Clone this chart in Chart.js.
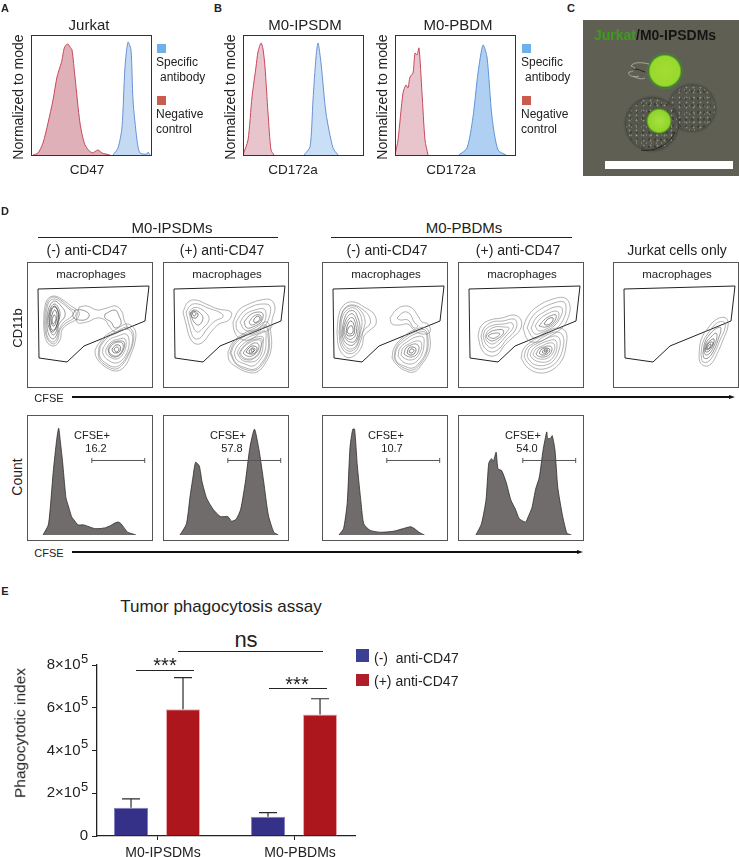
<!DOCTYPE html>
<html>
<head>
<meta charset="utf-8">
<script src="https://cdn.jsdelivr.net/npm/chart.js@4/dist/chart.umd.min.js"></script>
<style>
  html, body { margin: 0; padding: 0; background: #fff; }
  #page { position: relative; width: 739px; height: 857px; overflow: hidden; font-family: "Liberation Sans", Arial, sans-serif; color: #222; }
  #page canvas { position: absolute; }
  .txt { position: absolute; white-space: pre; line-height: 1; transform: translate(-50%, -50%); }
  .box { position: absolute; box-sizing: border-box; pointer-events: none; }
</style>
</head>
<body>
<div id="page"></div>
<script>
// Panel A / B histograms: x, y pairs
const jurkatNeg = [2,0, 7,2, 12,12, 17,32, 22,55, 26,78, 29,88, 31,95, 33,106, 35,110, 37,111, 39,108, 41,105, 44,78, 49,32, 54,10, 61,2, 67,5, 71,2, 79,0]
const jurkatPos = [82,0, 87,7, 91,28, 94,88, 97,113, 100,105, 102,55, 106,15, 109,2, 116,1, 117,3, 119,0]
const ipsdmNeg = [0,0, 5,15, 9,58, 13,88, 15,103, 18,112, 20,106, 22,88, 25,42, 28,5, 31,0]
const ipsdmPos = [61,0, 67,8, 70,55, 73,98, 75,112, 78,92, 83,42, 90,7, 95,0]
const pbdmNeg = [0,0, 3,15, 8,62, 11,70, 13,67, 15,78, 18,82, 20,102, 22,100, 24,107, 27,62, 30,15, 33,0]
const pbdmPos = [64,0, 72,7, 78,38, 83,82, 88,110, 92,98, 97,38, 103,5, 111,0]

// Panel D gate outline, shared by all five plots
const gate = [11,27, 122,24, 118,59, 57,84, 40,100, 12,96, 11,27]

// Panel D contour rings, one list per ring
const contoursIpsdmMinus = [
  [17,50, 20,38, 27,34, 36,38, 44,44, 52,50, 50,57, 41,62, 35,68, 33,78, 27,84, 20,80, 17,68],
  [18,51, 21,39, 27,35, 35,39, 43,46, 49,50, 47,56, 39,61, 33,68, 31,77, 27,82, 21,78, 18,67],
  [19,52, 22,40, 28,37, 35,41, 42,47, 46,51, 44,55, 37,60, 32,68, 30,76, 26,80, 21,76, 19,66],
  [20,54, 23,43, 28,39, 34,44, 38,50, 37,56, 32,62, 30,72, 26,77, 22,73, 20,64],
  [21,55, 24,45, 28,42, 32,47, 33,53, 31,62, 29,70, 26,73, 23,68, 21,62],
  [22,55, 24,47, 28,44, 31,49, 32,55, 30,63, 28,68, 25,70, 23,66],
  [23,55, 25,47, 28,45, 31,50, 31,58, 28,67, 25,68, 23,62],
  [24,56, 26,50, 28,48, 30,53, 29,60, 27,64, 25,63],
  [25,58, 27,53, 29,55, 28,60, 26,62],
  [52,45, 60,44, 70,48, 80,46, 89,44, 95,50, 97,58, 100,66, 94,68, 88,70, 82,64, 78,58, 70,56, 60,60, 50,60],
  [48,48, 55,48, 62,52, 60,57, 52,58, 46,55],
  [78,52, 88,48, 92,54, 94,62, 88,66, 84,60, 78,56],
  [70,84, 78,74, 88,68, 100,62, 108,68, 108,80, 104,92, 98,104, 90,109, 80,106, 71,98, 68,90],
  [72,85, 79,75, 89,70, 100,65, 106,70, 106,81, 102,92, 96,102, 89,107, 80,104, 72,96],
  [73,85, 80,76, 90,71, 100,67, 105,72, 105,82, 101,92, 95,101, 88,105, 80,102, 73,95],
  [76,86, 82,78, 91,74, 99,72, 102,78, 101,88, 96,97, 89,101, 81,98, 76,92],
  [79,87, 84,80, 92,77, 98,77, 99,84, 96,92, 90,97, 83,95, 79,91],
  [81,87, 85,81, 92,79, 97,80, 97,86, 93,93, 88,95, 83,93],
  [82,87, 86,82, 92,80, 96,82, 95,89, 90,94, 85,93, 82,90],
  [85,87, 89,83, 93,84, 93,89, 89,91, 86,90],
  [87,87, 90,85, 92,87, 90,90, 88,89]
]
const contoursIpsdmPlus = [
  [20,50, 25,40, 33,38, 43,42, 55,47, 68,50, 66,58, 56,62, 48,70, 40,80, 33,82, 27,76, 23,62],
  [23,50, 28,43, 35,42, 45,46, 58,51, 60,55, 52,59, 44,67, 37,76, 31,76, 27,66],
  [26,50, 30,46, 36,46, 44,52, 46,58, 40,66, 34,70, 29,62],
  [27,51, 31,48, 36,50, 40,56, 36,63, 31,60],
  [28,51, 31,49, 35,52, 33,56, 29,55],
  [29,51, 31,50, 33,52, 31,54],
  [70,60, 76,48, 86,42, 98,38, 108,38, 112,46, 109,58, 108,66, 96,72, 86,78, 76,76, 71,68],
  [73,60, 80,50, 90,44, 100,42, 107,44, 106,56, 100,66, 90,72, 80,72, 74,68],
  [77,60, 83,52, 92,48, 101,47, 103,54, 100,62, 92,68, 82,68],
  [81,60, 87,53, 95,50, 100,52, 98,60, 92,64, 84,66],
  [86,60, 91,54, 97,53, 98,58, 94,61, 88,63],
  [91,57, 95,54, 97,57, 94,60, 91,60],
  [65,90, 70,80, 80,72, 92,66, 104,60, 108,72, 108,88, 103,100, 94,110, 84,110, 72,104, 66,98],
  [67,91, 71,81, 81,73, 93,68, 103,63, 106,73, 106,88, 101,100, 93,108, 84,108, 73,102],
  [68,91, 72,82, 82,74, 93,69, 103,65, 105,74, 105,88, 100,99, 92,107, 83,106, 73,101],
  [71,91, 75,83, 84,76, 94,72, 102,69, 103,77, 102,89, 97,98, 90,104, 82,102, 74,98],
  [74,91, 78,84, 86,78, 94,75, 100,75, 100,82, 99,90, 94,98, 87,100, 79,98],
  [76,91, 80,85, 87,79, 94,77, 99,77, 98,85, 96,92, 90,97, 85,98, 79,96],
  [77,91, 81,85, 88,80, 94,78, 98,79, 97,88, 92,95, 85,97, 80,95],
  [80,91, 84,86, 89,82, 94,81, 96,84, 94,90, 89,94, 84,94],
  [83,90, 87,85, 91,84, 94,86, 92,91, 87,92],
  [86,89, 89,86, 92,87, 90,90, 87,91],
  [88,88, 90,87, 91,89, 89,90]
]
const contoursPbdmMinus = [
  [15,70, 17,52, 23,42, 32,40, 42,45, 52,52, 54,62, 48,68, 42,74, 40,84, 32,94, 24,95, 17,86],
  [17,70, 19,54, 24,45, 32,43, 40,47, 47,54, 48,62, 42,68, 39,78, 33,90, 25,91, 19,84],
  [18,70, 19,55, 24,46, 32,44, 39,49, 43,58, 42,66, 38,76, 33,87, 26,89, 20,82],
  [19,70, 20,56, 25,48, 32,46, 38,52, 40,62, 38,72, 34,84, 27,87, 21,80],
  [20,70, 22,58, 26,50, 32,49, 36,56, 38,66, 36,76, 31,83, 25,82, 21,76],
  [21,70, 23,60, 27,53, 31,52, 35,60, 36,70, 33,79, 28,80, 23,76],
  [22,70, 24,62, 28,56, 31,56, 34,64, 34,72, 30,77, 25,76],
  [24,70, 26,62, 29,59, 32,63, 32,72, 28,74, 25,73],
  [25,70, 27,65, 30,64, 31,70, 28,72],
  [68,56, 74,48, 82,44, 90,46, 96,54, 100,60, 106,62, 108,70, 100,72, 92,68, 86,62, 78,63, 70,62],
  [75,56, 82,50, 88,52, 92,60, 96,64, 92,66, 86,58, 78,58],
  [70,96, 72,86, 80,76, 92,68, 104,66, 108,76, 107,90, 100,102, 92,110, 82,108, 74,102],
  [72,96, 74,86, 81,77, 93,70, 103,68, 106,77, 105,90, 99,101, 91,108, 82,106, 75,101],
  [73,95, 75,86, 83,78, 93,72, 103,70, 105,78, 104,90, 98,100, 91,106, 82,104, 75,100],
  [76,94, 78,86, 85,80, 94,75, 101,75, 102,82, 100,92, 95,99, 89,102, 81,100],
  [79,93, 81,86, 87,82, 94,79, 99,80, 99,88, 94,96, 88,98, 82,96],
  [82,92, 84,86, 89,83, 94,82, 97,85, 95,92, 90,95, 85,94],
  [85,91, 87,86, 91,85, 94,87, 92,92, 88,93],
  [87,90, 89,87, 92,88, 90,91]
]
const contoursPbdmPlus = [
  [20,74, 23,64, 32,58, 44,56, 56,53, 63,58, 62,68, 54,76, 46,84, 40,92, 32,94, 24,88],
  [23,74, 26,66, 34,60, 45,59, 56,57, 59,62, 56,70, 48,78, 42,86, 34,90, 26,85],
  [25,74, 28,67, 36,63, 46,62, 54,61, 55,66, 48,74, 41,82, 34,86, 28,82],
  [27,74, 30,69, 37,65, 46,65, 51,66, 47,72, 40,79, 34,82, 29,79],
  [28,74, 32,70, 38,68, 45,68, 45,72, 39,77, 34,79, 30,77],
  [30,74, 33,72, 39,71, 42,72, 37,76, 33,76],
  [65,66, 70,54, 80,44, 95,37, 107,36, 112,44, 110,56, 104,66, 92,74, 80,80, 70,78],
  [69,66, 74,55, 83,47, 96,41, 106,40, 108,46, 106,56, 99,66, 88,72, 76,76],
  [73,66, 78,56, 86,50, 97,45, 104,46, 103,54, 96,64, 85,70, 77,72],
  [77,64, 82,57, 89,52, 98,49, 101,52, 98,60, 90,66, 81,69],
  [81,64, 86,58, 92,54, 98,53, 96,60, 88,65],
  [86,62, 90,57, 95,56, 94,60, 89,63],
  [63,96, 66,86, 76,78, 88,70, 100,66, 108,70, 108,84, 104,98, 94,108, 82,111, 70,106],
  [66,95, 69,86, 78,80, 89,73, 99,70, 105,74, 105,86, 100,98, 92,105, 80,107, 71,102],
  [69,94, 72,86, 80,81, 90,76, 98,74, 102,78, 101,88, 96,98, 88,103, 78,103, 72,99],
  [72,93, 75,87, 82,82, 90,79, 97,78, 99,84, 97,92, 91,99, 82,100, 75,97],
  [75,92, 78,87, 84,84, 91,81, 96,82, 96,89, 90,96, 82,97, 77,95],
  [78,92, 81,87, 86,85, 91,84, 94,86, 92,92, 86,95, 80,94],
  [81,91, 84,87, 89,86, 92,88, 89,92, 84,93],
  [84,90, 87,87, 90,88, 88,91, 85,91],
  [86,89, 88,88, 89,89, 87,90]
]
const contoursJurkat = [
  [86,92, 88,78, 95,66, 104,57, 113,56, 115,64, 110,78, 104,92, 98,102, 92,104, 87,100],
  [88,92, 90,80, 96,70, 104,61, 111,60, 112,66, 107,78, 102,90, 96,99, 90,100],
  [90,91, 92,80, 97,72, 104,66, 108,66, 105,78, 100,90, 95,96, 91,96],
  [91,90, 93,81, 98,75, 103,71, 104,75, 101,84, 97,91, 93,93],
  [92,89, 94,82, 98,78, 101,77, 100,83, 96,89, 93,90],
  [93,87, 95,82, 98,80, 100,81, 97,86, 94,88],
  [94,86, 96,83, 98,82, 97,85, 95,87]
]

// Panel D count histograms
const countIpsdmMinus = [12,0, 18,12, 23,68, 27,105, 29,116, 31,100, 33,82, 35,60, 37,40, 40,30, 43,20, 46,16, 50,11, 56,11, 62,9, 68,7, 74,7, 80,8, 85,10, 90,13, 94,14, 97,12, 100,8, 104,3, 110,1, 113,0]
const countIpsdmPlus = [13,0, 20,12, 24,42, 27,62, 30,79, 34,75, 37,58, 42,40, 49,28, 57,20, 65,20, 69,15, 74,17, 79,28, 84,57, 89,95, 94,115, 99,92, 104,58, 109,22, 115,3, 120,0]
const countPbdmMinus = [13,0, 18,7, 22,35, 25,95, 28,115, 30,115, 33,75, 37,35, 40,12, 47,5, 58,3, 72,4, 83,7, 91,9, 95,7, 100,3, 106,0]
const countPbdmPlus = [14,0, 20,12, 25,38, 28,78, 31,83, 33,80, 36,90, 38,72, 42,70, 47,57, 52,38, 57,28, 61,18, 68,14, 71,20, 75,30, 79,50, 83,63, 87,92, 91,112, 92,105, 95,105, 97,108, 100,92, 103,52, 108,22, 113,2, 118,0]
const cfseGateX = [65, 122.5]
const cfseGateY = 81

// Panel E values
const barCategories = ['M0-IPSDMs', 'M0-PBDMs']
const minusCd47 = [132000, 90000]
const plusCd47 = [593000, 569000]
const minusCd47Err = [174000, 109000]
const plusCd47Err = [741000, 642000]
const indexTicks = [0, 200000, 400000, 600000, 800000]
const indexTickLabels = ['0', '2×10\u2002', '4×10\u2002', '6×10\u2002', '8×10\u2002']
const indexExponent = '5'

const page = document.getElementById('page')

function addText(str, x, y, opts = {}) {
  const el = document.createElement('div')
  el.className = 'txt'
  el.textContent = str
  el.style.left = x + 'px'
  el.style.top = y + 'px'
  el.style.fontSize = (opts.size || 13) + 'px'
  if (opts.bold) el.style.fontWeight = 'bold'
  if (opts.color) el.style.color = opts.color
  if (opts.rotate) el.style.transform = `translate(-50%, -50%) rotate(${opts.rotate}deg)`
  if (opts.left) el.style.transform = 'translate(0, -50%)'
  page.appendChild(el)
  return el
}

function addRect(x, y, w, h, color) {
  const el = document.createElement('div')
  el.className = 'box'
  el.style.cssText += `left:${x}px;top:${y}px;width:${w}px;height:${h}px;background:${color}`
  page.appendChild(el)
  return el
}

function addArrow(x1, x2, y) {
  addRect(x1, y - 0.7, x2 - x1 - 3, 1.4, '#111')
  const head = document.createElement('div')
  head.className = 'box'
  head.style.cssText += `left:${x2 - 6}px;top:${y - 2.5}px;width:0;height:0;border-left:6px solid #111;border-top:2.5px solid transparent;border-bottom:2.5px solid transparent`
  page.appendChild(head)
}

function makeCanvas(x, y, w, h) {
  const canvas = document.createElement('canvas')
  canvas.width = w
  canvas.height = h
  canvas.style.cssText = `left:${x}px;top:${y}px;width:${w}px;height:${h}px`
  page.appendChild(canvas)
  return canvas
}

// flat x,y list -> chart points
function toPoints(flat) {
  const pts = []
  for (let i = 0; i < flat.length; i += 2) pts.push({ x: flat[i], y: flat[i + 1] })
  return pts
}

function closeRing(flat) {
  return toPoints(flat.concat(flat.slice(0, 2)))
}

function plotChart(x, y, size, datasets, reverse) {
  return new Chart(makeCanvas(x, y, size, size), {
    type: 'line',
    data: { datasets: datasets },
    options: {
      responsive: false,
      animation: false,
      devicePixelRatio: 1,
      layout: { padding: 0 },
      elements: { point: { radius: 0 } },
      plugins: { legend: { display: false }, tooltip: { enabled: false } },
      scales: {
        x: { type: 'linear', min: 0, max: size, display: false },
        y: { type: 'linear', min: 0, max: size, reverse: !!reverse, display: false }
      }
    }
  })
}

function frame(x, y, size, color) {
  const el = addRect(x, y, size, size, 'transparent')
  el.style.border = `1.3px solid ${color || '#444'}`
}

function histSet(flat, line, fill) {
  return { data: toPoints(flat), borderColor: line, backgroundColor: fill, borderWidth: 1, fill: 'origin', tension: 0.25 }
}

// Panel A / B
const RED_LINE = '#c8485c'
const BLUE_LINE = '#6b8fd4'
plotChart(31, 35, 120, [histSet(jurkatNeg, RED_LINE, '#dfb0b8'), histSet(jurkatPos, BLUE_LINE, '#c4daf2')])
plotChart(243, 35, 120, [histSet(ipsdmNeg, RED_LINE, '#e8c5cc'), histSet(ipsdmPos, BLUE_LINE, '#c8dff5')])
plotChart(395, 35, 120, [histSet(pbdmNeg, RED_LINE, '#e8c5cc'), histSet(pbdmPos, '#5f94d8', '#afd0f2')])
frame(31, 35, 120.5, '#333')
frame(243, 35, 120.5, '#333')
frame(395, 35, 120.5, '#333')

addText('A', 5, 8, { size: 11, bold: true })
addText('B', 218, 8, { size: 11, bold: true })
addText('C', 571, 8, { size: 11, bold: true })
addText('D', 5, 211, { size: 11, bold: true })
addText('E', 5, 591, { size: 11, bold: true })

addText('Jurkat', 89, 24, { size: 15 })
addText('M0-IPSDM', 305, 24, { size: 15 })
addText('M0-PBDM', 458, 24, { size: 15 })
addText('Normalized to mode', 18, 97, { size: 14, rotate: -90 })
addText('Normalized to mode', 230, 97, { size: 14, rotate: -90 })
addText('Normalized to mode', 382, 97, { size: 14, rotate: -90 })
addText('CD47', 87, 170, { size: 13.5 })
addText('CD172a', 293, 170, { size: 13.5 })
addText('CD172a', 451, 170, { size: 13.5 })

function specLegend(x) {
  addRect(x + 1, 44, 9, 9, '#6db0ea')
  addText('Specific', x, 62, { size: 12, left: true })
  addText('antibody', x + 4, 77, { size: 12, left: true })
  addRect(x + 1, 96, 9, 9, '#c85c4e')
  addText('Negative', x, 114, { size: 12, left: true })
  addText('control', x, 129, { size: 12, left: true })
}
specLegend(156)
specLegend(521)

// Panel C micrograph
const micro = addRect(583, 20, 156, 156, '#5f6053')
micro.style.overflow = 'hidden'
function microCell(cx, cy, r, bg, extra) {
  const el = document.createElement('div')
  el.style.cssText = `position:absolute;left:${cx - r - 583}px;top:${cy - r - 20}px;width:${2 * r}px;height:${2 * r}px;border-radius:50%;background:${bg};${extra || ''}`
  micro.appendChild(el)
}
const SPECKLE = 'radial-gradient(circle, rgba(225,225,215,.4) 0.7px, transparent 1.2px) 0 0/7px 5px, radial-gradient(circle, rgba(200,200,190,.3) 0.6px, transparent 1.1px) 3px 1px/5px 8px, radial-gradient(circle, rgba(25,25,20,.4) 0.9px, transparent 1.5px) 2px 3px/6px 7px'
microCell(692, 108, 23, `${SPECKLE}, #55564c`, 'filter:blur(0.5px);box-shadow:0 0 2px 1px rgba(30,30,30,.4)')
microCell(652, 124, 26, `${SPECKLE}, #55564c`, 'filter:blur(0.5px);box-shadow:0 0 2px 1px rgba(30,30,30,.5)')
microCell(665, 71, 18, 'radial-gradient(circle closest-side, #a4dc34 0, #98d82c 82%, #3f7d2e 92%, #55784a 100%)')
microCell(659, 121, 13, 'radial-gradient(circle closest-side, #a8e040 0, #8fd52a 82%, #3c5a2a 100%)')
const tendrils = document.createElementNS('http://www.w3.org/2000/svg', 'svg')
tendrils.setAttribute('width', '156')
tendrils.setAttribute('height', '156')
tendrils.style.cssText = 'position:absolute;left:0;top:0'
tendrils.innerHTML = '<path d="M66 44 C58 42 50 42 48 46 C54 47 52 52 46 52 C44 56 52 58 56 56 M62 58 C58 60 54 58 50 56" fill="none" stroke="#c0c0b4" stroke-width="0.7"/><path d="M62 52 C56 50 54 48 50 50 M58 130 C70 132 86 126 92 112" fill="none" stroke="#25251f" stroke-width="1"/>'
micro.appendChild(tendrils)
const microLabel = addText('', 594, 35, { size: 14, bold: true, left: true, color: '#141414' })
microLabel.innerHTML = '<span style="color:#3f9a1e">Jurkat</span>/M0-IPSDMs'
addRect(605, 161, 128, 8, '#fff')

// small rings sit in the dense centre of a cluster and read darker
function ringColor(flat) {
  const xs = flat.filter((v, i) => i % 2 === 0)
  const width = Math.max(...xs) - Math.min(...xs)
  if (width < 12) return '#333'
  if (width < 20) return '#555'
  return '#808080'
}

// Panel D contour plots
function contourChart(x, rings) {
  const sets = rings.map(r => ({ data: closeRing(r), borderColor: ringColor(r), borderWidth: 0.6, fill: false, tension: 0.4 }))
  sets.push({ data: toPoints(gate), borderColor: '#222', borderWidth: 1, fill: false, tension: 0 })
  plotChart(x, 262, 125, sets, true)
  frame(x, 262, 125.5, '#555')
  addText('macrophages', x + 64, 275, { size: 11.5 })
}
contourChart(27, contoursIpsdmMinus)
contourChart(163, contoursIpsdmPlus)
contourChart(322, contoursPbdmMinus)
contourChart(458, contoursPbdmPlus)
contourChart(613, contoursJurkat)

addText('M0-IPSDMs', 172, 227, { size: 15 })
addRect(38, 236.5, 240, 1.2, '#222')
addText('M0-PBDMs', 464, 227, { size: 15 })
addRect(331, 236.5, 241, 1.2, '#222')
addText('(-) anti-CD47', 87, 250, { size: 14 })
addText('(+) anti-CD47', 222, 250, { size: 14 })
addText('(-) anti-CD47', 387, 250, { size: 14 })
addText('(+) anti-CD47', 518, 250, { size: 14 })
addText('Jurkat cells only', 677, 250, { size: 14 })
addText('CD11b', 17, 328, { size: 13, rotate: -90 })
addText('CFSE', 49, 398, { size: 11 })
addArrow(72, 735, 397)
addText('Count', 17, 477, { size: 14, rotate: -90 })
addText('CFSE', 49, 553, { size: 11 })
addArrow(72, 583, 552)

// Panel D count histograms
function countChart(x, flat, label, value, labelX, valueX) {
  plotChart(x, 415, 125, [
    { data: [{ x: cfseGateX[0], y: cfseGateY }, { x: cfseGateX[1], y: cfseGateY }], borderColor: '#555', borderWidth: 1,
      pointStyle: 'line', pointRotation: 90, pointRadius: 2.5, pointBorderColor: '#555', pointBorderWidth: 1, fill: false },
    { data: toPoints(flat), borderColor: '#2e2b2b', backgroundColor: '#706c6c', borderWidth: 0.8, fill: 'origin', tension: 0.2 }
  ])
  frame(x, 415, 125.5, '#555')
  addText(label, labelX, 435, { size: 11 })
  addText(value, valueX, 448, { size: 11 })
}
countChart(27, countIpsdmMinus, 'CFSE+', '16.2', 92, 96)
countChart(163, countIpsdmPlus, 'CFSE+', '57.8', 228, 232)
countChart(322, countPbdmMinus, 'CFSE+', '10.7', 386, 392)
countChart(458, countPbdmPlus, 'CFSE+', '54.0', 523, 527)

// Panel E bar chart, error bars go through the chart's own scales
const errorBars = {
  id: 'errorBars',
  afterDatasetsDraw(chart) {
    const { ctx, scales } = chart
    const tops = [minusCd47Err, plusCd47Err]
    ctx.save()
    ctx.strokeStyle = '#2a2a2a'
    ctx.lineWidth = 1.2
    tops.forEach((list, di) => {
      chart.getDatasetMeta(di).data.forEach((bar, i) => {
        const yTop = scales.y.getPixelForValue(list[i])
        ctx.beginPath()
        ctx.moveTo(bar.x, bar.y)
        ctx.lineTo(bar.x, yTop)
        ctx.moveTo(bar.x - 9, yTop)
        ctx.lineTo(bar.x + 9, yTop)
        ctx.stroke()
      })
    })
    // exponent beside each 2×10 style tick label
    ctx.fillStyle = '#222'
    ctx.font = '13px "Liberation Sans"'
    ctx.textAlign = 'left'
    ctx.textBaseline = 'middle'
    indexTicks.filter(v => v > 0).forEach(v => {
      ctx.fillText(indexExponent, scales.y.left + 81, scales.y.getPixelForValue(v) - 6)
    })
    ctx.restore()
  }
}

new Chart(makeCanvas(0, 652, 360, 205), {
  type: 'bar',
  data: {
    datasets: [
      { label: '(-) anti-CD47', data: minusCd47.map((v, i) => ({ x: i, y: v })), backgroundColor: '#353088', borderColor: '#7f7fc4', borderWidth: 1 },
      { label: '(+) anti-CD47', data: plusCd47.map((v, i) => ({ x: i, y: v })), backgroundColor: '#ae161e', borderColor: '#e8a8a8', borderWidth: 1 }
    ]
  },
  options: {
    responsive: false,
    animation: false,
    devicePixelRatio: 1,
    categoryPercentage: 0.759,
    barPercentage: 0.654,
    layout: { padding: { top: 4, right: 5 } },
    plugins: { legend: { display: false }, tooltip: { enabled: false } },
    scales: {
      x: {
        type: 'linear',
        offset: false,
        min: -0.438,
        max: 1.445,
        afterFit(scale) { scale.height = 21 },
        afterBuildTicks(scale) { scale.ticks = [{ value: 0 }, { value: 1 }] },
        grid: { offset: false, drawOnChartArea: false, drawTicks: true, tickLength: 4, tickColor: '#222' },
        border: { color: '#222', width: 1.3 },
        ticks: {
          autoSkip: false,
          maxRotation: 0,
          padding: 5,
          labelOffset: 6,
          color: '#222',
          font: { family: 'Liberation Sans', size: 14 },
          callback: v => barCategories[v]
        }
      },
      y: {
        min: 0,
        max: 800000,
        afterFit(scale) { scale.width = 97 },
        afterBuildTicks(scale) { scale.ticks = indexTicks.map(v => ({ value: v })) },
        grid: { drawOnChartArea: false, tickLength: 5, tickColor: '#222' },
        border: { color: '#222', width: 1.3 },
        ticks: {
          padding: 4,
          color: '#222',
          font: { family: 'Liberation Sans', size: 15 },
          callback: v => indexTickLabels[indexTicks.indexOf(v)]
        }
      }
    }
  },
  plugins: [errorBars]
})

addText('Phagocytotic index', 20, 733, { size: 15.5, rotate: -90 })
addText('Tumor phagocytosis assay', 221, 606, { size: 17 })
addText('ns', 246, 640, { size: 22 })
addRect(178, 650.5, 145, 1.2, '#222')
addText('***', 165, 665, { size: 20 })
addRect(136, 669.5, 58, 1.2, '#222')
addText('***', 297, 684, { size: 20 })
addRect(269, 687.5, 58, 1.2, '#222')
addRect(356, 649, 13, 13, '#3d3f92')
addText('(-)  anti-CD47', 374, 658, { size: 14, left: true })
addRect(356, 674, 13, 12, '#ae1e28')
addText('(+) anti-CD47', 374, 681, { size: 14, left: true })
</script>
</body>
</html>
